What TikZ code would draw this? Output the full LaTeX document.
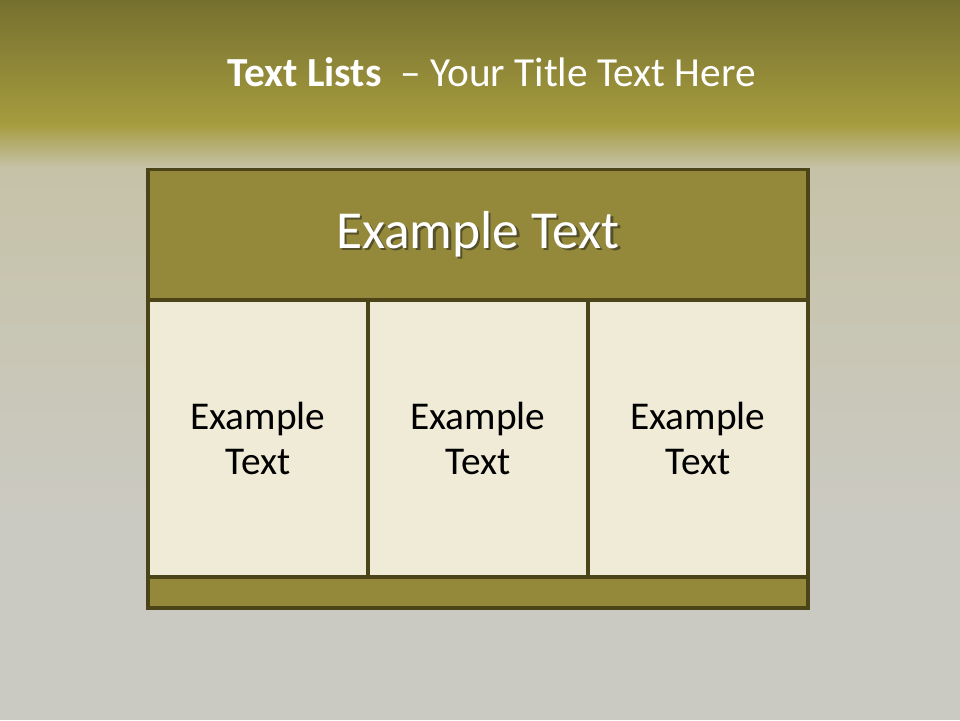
\documentclass[tikz,border=0pt]{standalone}
\usepackage{fontspec}
\setmainfont{Carlito}
\definecolor{olivetop}{HTML}{767030}
\definecolor{olivemid}{HTML}{A69C3E}
\definecolor{bgwarm}{HTML}{C6C2A8}
\definecolor{bggrey}{HTML}{CBCAC2}
\definecolor{olivefill}{HTML}{94893A}
\definecolor{cream}{HTML}{F0EBD6}
\definecolor{rim}{HTML}{4B4419}
\definecolor{shade}{HTML}{55502A}
\newcommand\shadowed[1]{\makebox[0pt][l]{\raisebox{-1.6pt}{\hspace{1.6pt}\color{shade}#1}}#1}
\begin{document}
\begin{tikzpicture}[
  hdrbox/.style={draw=rim, line width=2.2pt, fill=olivefill, minimum width=16.5cm,
                 minimum height=3.3cm, text=white, font=\fontsize{38}{45}\selectfont},
  cellbox/.style={draw=rim, line width=2.2pt, fill=cream, minimum width=5.5cm,
                  minimum height=6.925cm, align=center, font=\fontsize{28}{32.5}\selectfont},
  footbox/.style={draw=rim, line width=2.2pt, fill=olivefill, minimum width=16.5cm,
                  minimum height=0.775cm}
]
% background
\useasboundingbox (0,0) rectangle (24,18);
\fill[bggrey] (0,0) rectangle (24,18);
\shade[top color=olivetop, bottom color=olivemid] (0,14.85) rectangle (24,18);
\shade[top color=olivemid, bottom color=bgwarm] (0,13.8) rectangle (24,14.9);
\shade[top color=bgwarm, bottom color=bggrey] (0,5) rectangle (24,13.82);
% title
\node[text=white, anchor=base, font=\fontsize{29.4}{35}\selectfont] (title) at (12.29,15.83)
  {\textbf{Text Lists}~ – Your Title Text Here};
% table
\node[hdrbox] (hdr) at (11.95,12.12) {\shadowed{Example Text}};
\node[cellbox] (c1) at (6.45, 7.0375) {Example\\Text};
\node[cellbox] (c2) at (11.95,7.0375) {Example\\Text};
\node[cellbox] (c3) at (17.45,7.0375) {Example\\Text};
\node[footbox] (foot) at (11.95,3.1875) {};
\end{tikzpicture}
\end{document}
